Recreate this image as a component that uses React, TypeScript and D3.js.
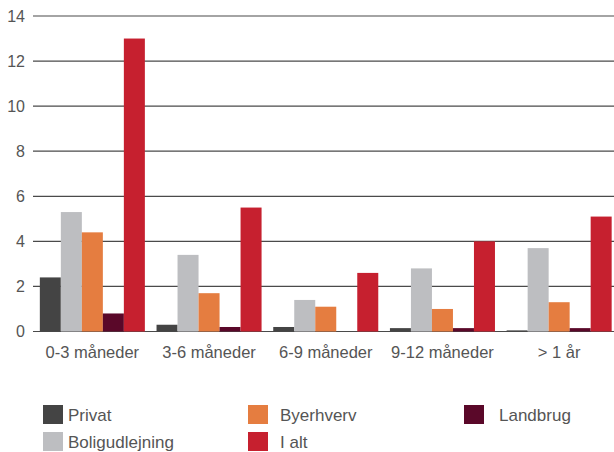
import React from "react";
import { scaleBand, scaleLinear, range } from "d3";

const categories = ["0-3 måneder", "3-6 måneder", "6-9 måneder", "9-12 måneder", "> 1 år"];
const seriesNames = ["Privat", "Boligudlejning", "Byerhverv", "Landbrug", "I alt"];
const seriesColors = ["#444444", "#bdbec1", "#e57d40", "#5a0829", "#c6202f"];

const privat = [2.4, 0.3, 0.2, 0.15, 0.05];
const boligudlejning = [5.3, 3.4, 1.4, 2.8, 3.7];
const byerhverv = [4.4, 1.7, 1.1, 1.0, 1.3];
const landbrug = [0.8, 0.2, 0.0, 0.15, 0.15];
const iAlt = [13.0, 5.5, 2.6, 4.0, 5.1];
const yTicks = [0, 2, 4, 6, 8, 10, 12, 14];

const seriesValues = [privat, boligudlejning, byerhverv, landbrug, iAlt];

// legend layout: [column x, row]
const legendPos = [
  { x: 43, row: 0, gap: 5 },
  { x: 43, row: 1, gap: 5 },
  { x: 248, row: 0, gap: 12 },
  { x: 464, row: 0, gap: 15 },
  { x: 248, row: 1, gap: 12 },
];

export default function App() {
  const width = 614,
    height = 452;

  const x0 = scaleBand<string>()
    .domain(categories)
    .range([34, 617.5])
    .paddingInner(0.1)
    .paddingOuter(0.05);

  const x1 = scaleBand<string>()
    .domain(seriesNames)
    .range([0, x0.bandwidth()]);

  const y = scaleLinear().domain([0, 14]).range([331.5, 16]);

  const font = "'Liberation Sans', Arial, Helvetica, sans-serif";

  return (
    <svg
      width={width}
      height={height}
      style={{ position: "absolute", left: 0, top: 0 }}
      fontFamily={font}
    >
      <g className="grid">
        {yTicks.map((t) => (
          <g key={t}>
            <line x1={33} x2={width} y1={y(t)} y2={y(t)} stroke="#4a4a4a" strokeWidth={1.2} />
            <text x={25} y={y(t)} dy="0.35em" textAnchor="end" fontSize={16} fill="#555">
              {t}
            </text>
          </g>
        ))}
      </g>
      <g className="bars">
        {categories.map((c, ci) => (
          <g key={c} transform={`translate(${x0(c)},0)`}>
            {seriesNames.map((s, si) => {
              const v = seriesValues[si][ci];
              return (
                <rect
                  key={s}
                  x={x1(s)}
                  y={y(v)}
                  width={x1.bandwidth()}
                  height={y(0) - y(v)}
                  fill={seriesColors[si]}
                />
              );
            })}
          </g>
        ))}
      </g>
      <g className="x-labels">
        {categories.map((c) => (
          <text
            key={c}
            x={(x0(c) ?? 0) + x0.bandwidth() / 2}
            y={358}
            textAnchor="middle"
            fontSize={16.5}
            fill="#555"
          >
            {c}
          </text>
        ))}
      </g>
      <g className="legend">
        {range(seriesNames.length).map((i) => {
          const p = legendPos[i];
          const top = 405 + p.row * 27;
          return (
            <g key={seriesNames[i]}>
              <rect x={p.x} y={top} width={20} height={19} fill={seriesColors[i]} />
              <text x={p.x + 20 + p.gap} y={top + 16} fontSize={17} fill="#555">
                {seriesNames[i]}
              </text>
            </g>
          );
        })}
      </g>
    </svg>
  );
}
